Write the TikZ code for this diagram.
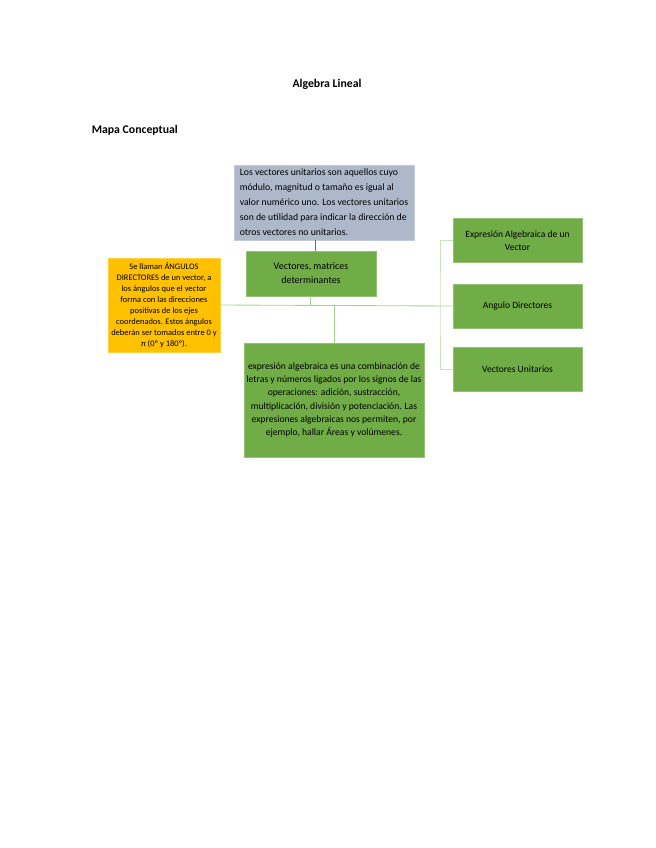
\documentclass[tikz,border=0pt]{standalone}
\usepackage{fontspec}
\setmainfont{Carlito}
\usepackage{tikz}
\definecolor{leaf}{HTML}{70AD47}
\definecolor{slate}{HTML}{ADB9CA}
\definecolor{amber}{HTML}{FFC000}
\definecolor{link}{HTML}{A9D18E}
\definecolor{pale}{HTML}{C9E2B8}
\definecolor{steel}{HTML}{4472C4}

\begin{document}
\begin{tikzpicture}[x=0.934pt,y=-0.934pt,
  box/.style={draw=#1!75!white,fill=#1,line width=0.5pt,inner sep=1pt,align=center,text=black},
  lnk/.style={draw=link,line width=0.8pt},
  plk/.style={draw=pale,line width=0.8pt}]
\useasboundingbox (0,0) rectangle (655,848);
\node[font=\fontsize{11}{13}\selectfont\bfseries] (title) at (327,84) {Algebra Lineal};
\node[font=\fontsize{11}{13}\selectfont\bfseries,anchor=west] (sub) at (88,130) {Mapa Conceptual};

\node[box=slate,minimum width=168pt,minimum height=70pt,align=left,
  font=\fontsize{9.1}{14}\selectfont] (unit) at (324,202.5)
 {Los vectores unitarios son aquellos cuyo\\
  módulo, magnitud o tamaño es igual al\\
  valor numérico uno. Los vectores unitarios\\
  son de utilidad para indicar la dirección de\\
  otros vectores no unitarios.};
\node[box=leaf,minimum width=121.4pt,minimum height=42pt,
  font=\fontsize{9.3}{13}\selectfont] (vec) at (311,273.5)
 {Vectores, matrices\\determinantes};
\node[box=amber,minimum width=104.6pt,minimum height=87.8pt,
  font=\fontsize{7.9}{10.3}\selectfont] (ang) at (164,305)
 {Se llaman ÁNGULOS\\DIRECTORES de un vector, a\\los ángulos que el vector\\
  forma con las direcciones\\positivas de los ejes\\coordenados. Estos ángulos\\
  deberán ser tomados entre 0 y\\π (0º y 180º).};
\node[box=leaf,minimum width=168pt,minimum height=106.5pt,
  font=\fontsize{9}{12.2}\selectfont] (alg) at (334,400)
 {expresión algebraica es una combinación de\\
  letras y números ligados por los signos de las\\
  operaciones: adición, sustracción,\\
  multiplicación, división y potenciación. Las\\
  expresiones algebraicas nos permiten, por\\
  ejemplo, hallar Áreas y volúmenes.};

\foreach \n/\y/\t in {r1/240.5/{Expresión Algebraica de un\\Vector},
                      r2/306/{Angulo Directores},
                      r3/369/{Vectores Unitarios}}
 {\node[box=leaf,minimum width=120.5pt,minimum height=41.5pt,
    font=\fontsize{8.9}{12}\selectfont] (\n) at (517.5,\y) {\t};}

\coordinate (jv) at (310,305);
\coordinate (ja) at (334,305);
\coordinate (jr) at (440,305);
\draw[draw=steel,line width=0.8pt] (unit.south -| 315,0) -- (vec.north -| 315,0);
\draw[lnk] (ang.east |- jv) -- (r2.west);
\draw[lnk] (vec.south -| jv) -- (jv);
\draw[lnk] (ja) -- (alg.north -| ja);
\draw[plk] (r1.west) -| (jr) |- (r3.west);
\end{tikzpicture}
\end{document}
